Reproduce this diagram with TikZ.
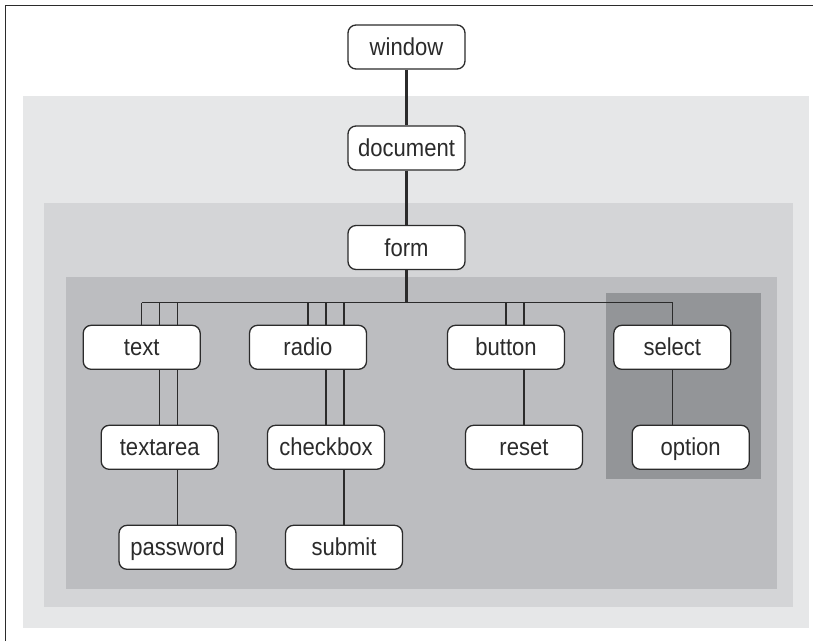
\documentclass[tikz,border=0pt]{standalone}
\usepackage{fontspec}
\setmainfont{Liberation Sans}[FakeStretch=0.9]
\definecolor{zoneA}{HTML}{E6E7E8}
\definecolor{zoneB}{HTML}{D4D5D7}
\definecolor{zoneC}{HTML}{BCBDC0}
\definecolor{zoneD}{HTML}{939598}
\definecolor{ink}{HTML}{2B2B2B}
\tikzset{
  obj/.style={draw=ink,line width=1.3pt,fill=white,rounded corners=8pt,minimum width=117pt,minimum height=44pt,inner sep=0pt,text height=20pt,text depth=3pt,font=\fontsize{24.5}{28}\selectfont,text=ink},
  link/.style={draw=ink,line width=1.3pt},
  trunk/.style={draw=ink,line width=2.3pt}
}
\begin{document}
\begin{tikzpicture}[x=1pt,y=-1pt]
\useasboundingbox (0,0) rectangle (813,641);
% nested zones
\fill[zoneA] (23,96) rectangle (809,628);
\fill[zoneB] (44,203) rectangle (793,607);
\fill[zoneC] (66,277) rectangle (777,589);
\fill[zoneD] (606,293) rectangle (761,479);
\draw[ink,line width=1.5pt] (5.5,641) -- (5.5,5.5) -- (813,5.5);
% top chain
\node[obj] (window) at (406.5,47) {window};
\node[obj] (document) at (406.5,148) {document};
\node[obj] (form) at (406.5,247.5) {form};
\coordinate (bus) at (406.5,302.7);
% elements
\node[obj] (text) at (141.7,347.3) {text};
\node[obj] (radio) at (308,347.3) {radio};
\node[obj] (button) at (506,347.3) {button};
\node[obj] (select) at (672.3,347.3) {select};
\node[obj] (textarea) at (159.7,447.3) {textarea};
\node[obj] (checkbox) at (326,447.3) {checkbox};
\node[obj] (reset) at (524,447.3) {reset};
\node[obj] (option) at (690.7,447.3) {option};
\node[obj] (password) at (177.5,547.3) {password};
\node[obj] (submit) at (344,547.3) {submit};
% connectors
\draw[trunk] (window) -- (document) -- (form) -- (bus);
\draw[link] (bus -| text) -- (bus -| select) -- (select);
\draw[link] (bus -| text) -- (text);
\draw[link] (bus -| textarea) -- (text.north -| textarea) (text.south -| textarea) -- (textarea);
\draw[link] (bus -| password) -- (text.north -| password) (text.south -| password) -- (textarea.north -| password) (textarea.south -| password) -- (password);
\draw[link] (bus -| radio) -- (radio);
\draw[link] (bus -| checkbox) -- (radio.north -| checkbox) (radio.south -| checkbox) -- (checkbox);
\draw[link] (bus -| submit) -- (radio.north -| submit) (radio.south -| submit) -- (checkbox.north -| submit) (checkbox.south -| submit) -- (submit);
\draw[link] (bus -| button) -- (button);
\draw[link] (bus -| reset) -- (button.north -| reset) (button.south -| reset) -- (reset);
\draw[link] (select) -- (select |- option.north);
\end{tikzpicture}
\end{document}
